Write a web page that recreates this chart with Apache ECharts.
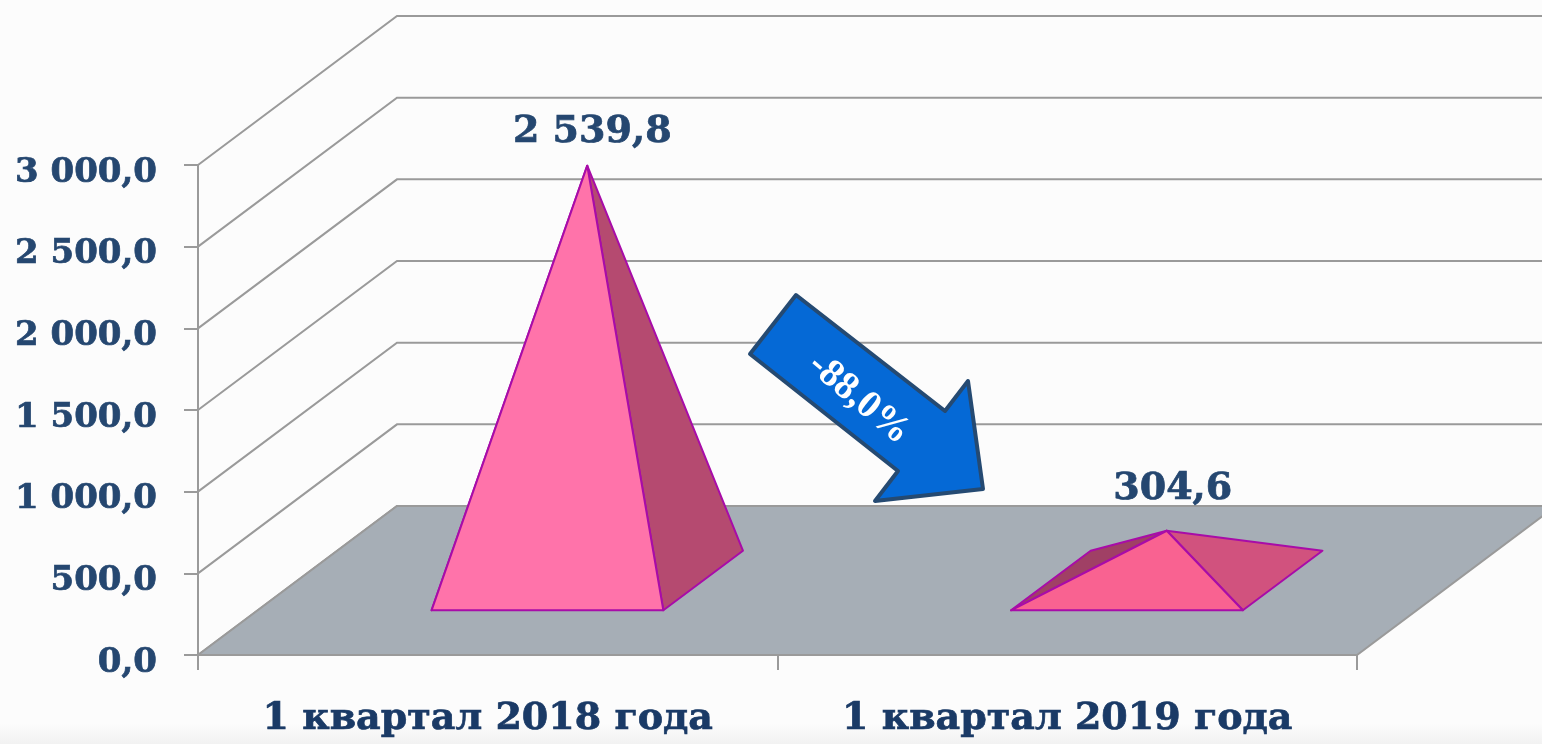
<!DOCTYPE html>
<html>
<head>
<meta charset="utf-8">
<style>
  html, body { margin: 0; padding: 0; background: #fcfcfc; }
  #chart { width: 1542px; height: 744px; }
</style>
</head>
<body>
<div id="chart"></div>
<script src="https://cdn.jsdelivr.net/npm/echarts@6/dist/echarts.min.js"></script>
<script>
var categories = ['1 квартал 2018 года', '1 квартал 2019 года']
var values = [2539.8, 304.6]
var valueLabels = ['2 539,8', '304,6']
var yTicks = [0, 500, 1000, 1500, 2000, 2500, 3000]
var yTickLabels = ['0,0', '500,0', '1 000,0', '1 500,0', '2 000,0', '2 500,0', '3 000,0']
var changeLabel = '-88,0%'

var FONT = '"DejaVu Serif", serif'
var DEPTH_X = 199
var DEPTH_Y = 149
var LINE = '#9a9a9a'
var TEXT = '#254770'
var TEXT_X = '#1a3a66'
// face colours per pyramid: front, right, left
var FACES = [
  ['#ff73aa', '#b54a70', '#b54a70'],
  ['#f96291', '#d1527e', '#a04065']
]
var LABEL_SHIFT = [[5, -34], [6, -42]]

function renderWall(params, api) {
  var y = api.coord([0, api.value(0)])[1]
  var x = params.coordSys.x
  var bx = x + DEPTH_X
  var by = y - DEPTH_Y
  return {
    type: 'polyline',
    shape: { points: [[x, y], [bx, by], [api.getWidth() + 5, by]] },
    style: { stroke: LINE, lineWidth: 2, fill: null }
  }
}

function renderFloor(params) {
  var c = params.coordSys
  var b = c.y + c.height
  return {
    type: 'polygon',
    shape: {
      points: [
        [c.x, b],
        [c.x + c.width, b],
        [c.x + c.width + DEPTH_X, b - DEPTH_Y],
        [c.x + DEPTH_X, b - DEPTH_Y]
      ]
    },
    style: { fill: '#a6aeb6', stroke: LINE, lineWidth: 2 }
  }
}

function renderPyramid(params, api) {
  var i = api.value(0)
  var top = api.coord([i, api.value(1)])
  var base = api.coord([i, 0])
  var half = api.size([1, 0])[0] * 0.2
  // the pyramid stands 30% into the floor depth and takes 40% of it
  var fx = base[0] + DEPTH_X * 0.3
  var fy = base[1] - DEPTH_Y * 0.3
  var dx = DEPTH_X * 0.4
  var dy = DEPTH_Y * 0.4
  var h = base[1] - top[1]
  var apex = [fx + dx / 2, fy - dy / 2 - h]
  var f1 = [fx - half, fy]
  var f2 = [fx + half, fy]
  var b1 = [f1[0] + dx, fy - dy]
  var b2 = [f2[0] + dx, fy - dy]
  var col = FACES[i]
  var stroke = { stroke: '#a80ca8', lineWidth: 2, lineJoin: 'round' }
  function face(pts, fill) {
    return {
      type: 'polygon',
      shape: { points: pts },
      style: Object.assign({ fill: fill }, stroke)
    }
  }
  return {
    type: 'group',
    children: [
      face([f1, b1, apex], col[2]),
      face([f2, b2, apex], col[1]),
      face([f1, f2, apex], col[0]),
      {
        type: 'text',
        x: apex[0] + LABEL_SHIFT[i][0],
        y: apex[1] + LABEL_SHIFT[i][1],
        style: {
          text: valueLabels[i],
          fill: TEXT,
          stroke: TEXT,
          lineWidth: 0.7,
          font: 'bold 38px ' + FONT,
          align: 'center',
          verticalAlign: 'middle'
        }
      }
    ]
  }
}

var chart = echarts.init(document.getElementById('chart'), null, { renderer: 'canvas' })
chart.setOption({
  animation: false,
  backgroundColor: '#fcfcfc',
  grid: { left: 198, top: 165, width: 1159, height: 490 },
  xAxis: {
    type: 'category',
    data: categories,
    axisLine: { lineStyle: { color: LINE, width: 2 } },
    axisTick: { show: true, interval: 0, length: 15, alignWithLabel: false, lineStyle: { color: LINE, width: 2 } },
    axisLabel: {
      interval: 0,
      color: TEXT_X,
      fontFamily: FONT,
      fontWeight: 'bold',
      fontSize: 38,
      margin: 45,
      textBorderColor: TEXT_X,
      textBorderWidth: 0.7
    }
  },
  yAxis: {
    type: 'value',
    min: 0,
    max: 3000,
    interval: 500,
    splitLine: { show: false },
    axisLine: { show: true, lineStyle: { color: LINE, width: 2 } },
    axisTick: { show: true, length: 14, lineStyle: { color: LINE, width: 2 } },
    axisLabel: {
      color: TEXT,
      fontFamily: FONT,
      fontWeight: 'bold',
      fontSize: 34,
      margin: 41,
      lineHeight: 16,
      textBorderColor: TEXT,
      textBorderWidth: 0.7,
      // leading empty line pushes the text a little below its tick, as in the original
      formatter: function (v) { return '\n' + yTickLabels[yTicks.indexOf(v)] }
    }
  },
  series: [
    {
      type: 'custom',
      clip: false,
      silent: true,
      z: 1,
      data: yTicks.map(function (t) { return [t] }),
      encode: { y: 0 },
      renderItem: renderWall
    },
    {
      type: 'custom',
      clip: false,
      silent: true,
      z: 2,
      data: [[0]],
      encode: { y: 0 },
      renderItem: renderFloor
    },
    {
      type: 'custom',
      clip: false,
      z: 3,
      data: values.map(function (v, i) { return [i, v] }),
      encode: { x: 0, y: 1 },
      renderItem: renderPyramid
    }
  ],
  graphic: [
    {
      type: 'rect',
      silent: true,
      z: 0,
      shape: { x: 0, y: 724, width: 1542, height: 20 },
      style: {
        fill: new echarts.graphic.LinearGradient(0, 0, 0, 1, [
          { offset: 0, color: '#fcfcfc' },
          { offset: 1, color: '#f2f2f2' }
        ])
      }
    },
    {
      type: 'polygon',
      silent: true,
      z: 10,
      shape: {
        points: [[796, 295], [750, 354], [898, 471], [875, 501], [983, 489], [968, 381], [945, 411]]
      },
      style: { fill: '#0569d6', stroke: '#254a72', lineWidth: 4, lineJoin: 'round' }
    },
    {
      type: 'text',
      silent: true,
      z: 11,
      x: 859,
      y: 399,
      rotation: -Math.PI * 40 / 180,
      style: {
        text: changeLabel,
        fill: '#ffffff',
        font: 'bold 39px "Liberation Serif", serif',
        align: 'center',
        verticalAlign: 'middle'
      }
    }
  ]
})
</script>
</body>
</html>
